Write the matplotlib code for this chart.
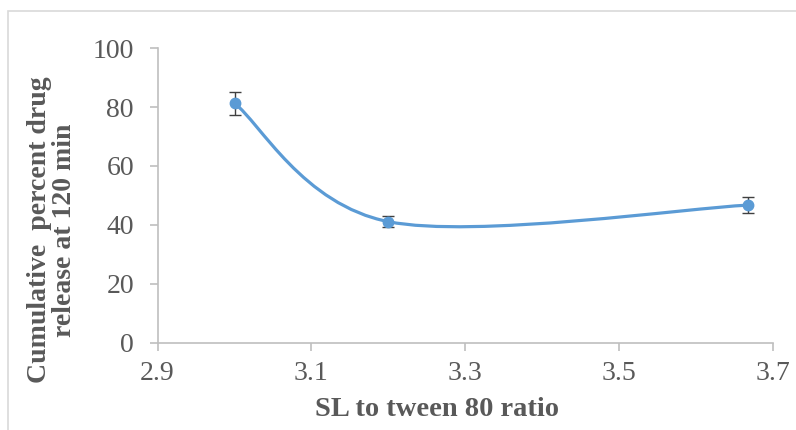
import numpy as np
import matplotlib.pyplot as plt
from matplotlib.path import Path
from matplotlib.patches import PathPatch, Rectangle

ratio = [3.0, 3.2, 3.667]
release = [81.3, 41.1, 46.7]
err = [3.9, 1.8, 2.7]

xticks = [2.9, 3.1, 3.3, 3.5, 3.7]
yticks = [0, 20, 40, 60, 80, 100]

blue = '#5B9BD5'
grey = '#595959'
axis_col = '#BFBFBF'

plt.rcParams['font.family'] = ['Liberation Serif', 'DejaVu Serif']

fig = plt.figure(figsize=(7.96, 4.30), dpi=100)
ax = fig.add_axes([0.198, 0.203, 0.773, 0.685])

# outer chart-area border (Excel style)
fig.patches.append(Rectangle((8/796, -0.1), 1.2, 1 - 11/430 + 0.1,
                             transform=fig.transFigure, fill=False,
                             edgecolor='#D9D9D9', lw=1.2))

# Excel-like smoothed line: Catmull-Rom -> cubic bezier
pts = np.column_stack([ratio, release])
ext = np.vstack([pts[0], pts, pts[-1]])
verts = [tuple(pts[0])]
codes = [Path.MOVETO]
for i in range(len(pts) - 1):
    p0, p1, p2, p3 = ext[i], ext[i + 1], ext[i + 2], ext[i + 3]
    c1 = p1 + (p2 - p0) / 6
    c2 = p2 - (p3 - p1) / 6
    verts += [tuple(c1), tuple(c2), tuple(p2)]
    codes += [Path.CURVE4] * 3
ax.add_patch(PathPatch(Path(verts, codes), fill=False, edgecolor=blue,
                       lw=2.3, capstyle='round', zorder=2))

ax.errorbar(ratio, release, yerr=err, fmt='o', color=blue, ms=7.5,
            ecolor='#404040', elinewidth=1.0, capsize=4.5, capthick=1.0,
            zorder=3)

ax.set_xlim(2.9, 3.7)
ax.set_ylim(0, 100)
ax.set_xticks(xticks)
ax.set_yticks(yticks)
ax.set_xticklabels(['2.9', '3.1', '3.3', '3.5', '3.7'])

for s in ['top', 'right']:
    ax.spines[s].set_visible(False)
for s in ['left', 'bottom']:
    ax.spines[s].set_color(axis_col)
    ax.spines[s].set_linewidth(1.2)
ax.tick_params(axis='both', direction='out', length=6, width=1.2,
               color=axis_col, labelcolor=grey, labelsize=20)
ax.tick_params(axis='y', pad=11)
ax.tick_params(axis='x', pad=7)

fig.text(437/796, 1 - 409/430, 'SL to tween 80 ratio', ha='center',
         va='center', fontsize=20.5, fontweight='bold', color=grey)
fig.text(52/796, 1 - 230/430, 'Cumulative  percent drug\nrelease at 120 min',
         ha='center', va='center', rotation=90, multialignment='center',
         fontsize=20, fontweight='bold', color=grey, linespacing=1.05)

fig.savefig('out.png', dpi=100)
